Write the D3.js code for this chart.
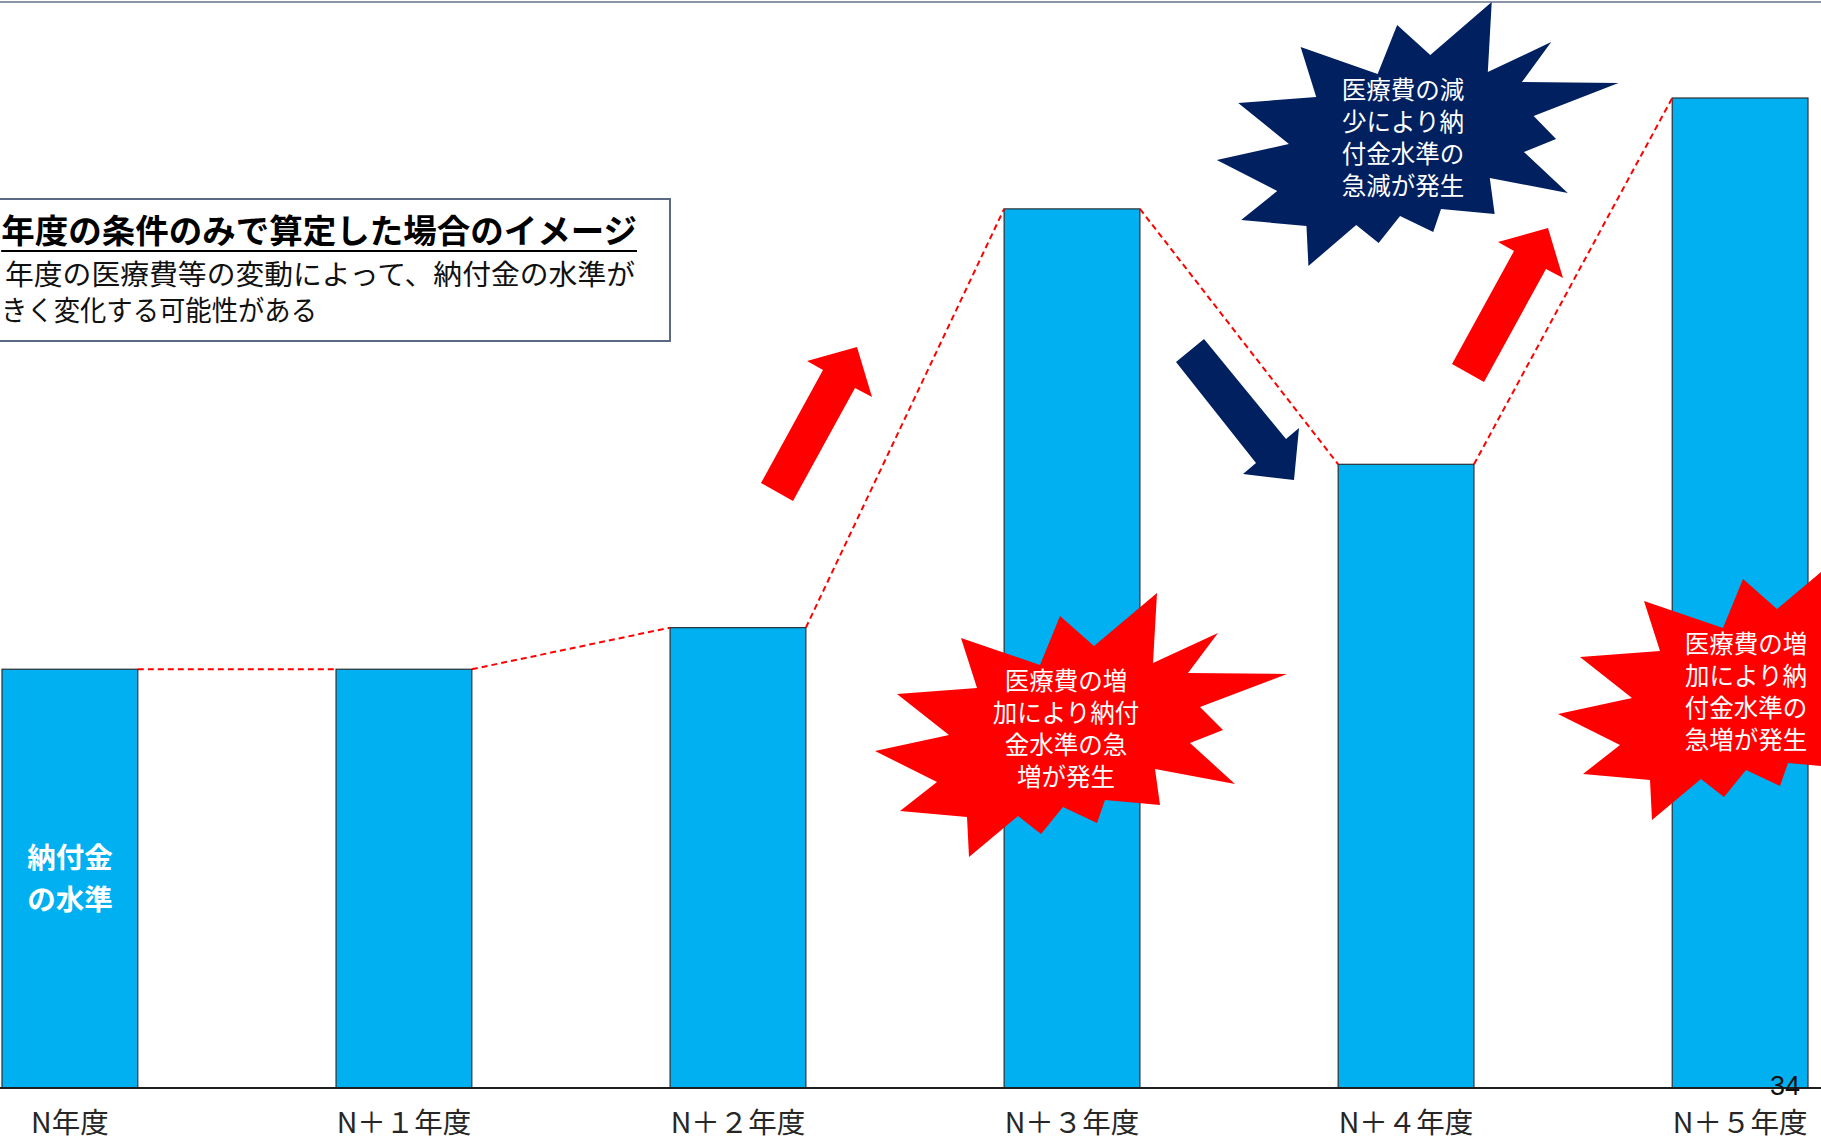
<!DOCTYPE html>
<html lang="ja">
<head>
<meta charset="utf-8">
<script src="https://cdn.jsdelivr.net/npm/d3@7"></script>
<style>
  html, body { margin: 0; padding: 0; background: #fff; overflow: hidden; }
  svg { display: block; font-family: "Noto Sans CJK JP", "Noto Sans", sans-serif; }
</style>
</head>
<body>
<svg id="chart" width="1821" height="1141"></svg>
<script>
// ---- data ----
const categories = ["N年度", "N＋１年度", "N＋２年度", "N＋３年度", "N＋４年度", "N＋５年度"];
const levels = [42.3, 42.3, 46.5, 88.8, 63.0, 100];   // 納付金の水準 (relative)
const barLabel = ["納付金", "の水準"];
const titleText = "年度の条件のみで算定した場合のイメージ";
const subtitleLines = ["年度の医療費等の変動によって、納付金の水準が", "きく変化する可能性がある"];
const increaseNoteA = ["医療費の増", "加により納付", "金水準の急", "増が発生"];
const decreaseNote = ["医療費の減", "少により納", "付金水準の", "急減が発生"];
const increaseNoteB = ["医療費の増", "加により納", "付金水準の", "急増が発生"];
const pageNumber = "34";

// ---- layout ----
const W = 1821, H = 1141;
const baseY = 1088;
const svg = d3.select("#chart");

const x = d3.scaleBand().domain(categories).range([2, 1808]).paddingInner(0.5935).paddingOuter(0);
const y = d3.scaleLinear().domain([0, 100]).range([baseY, 98]);

// top rule
svg.append("line").attr("x1", 0).attr("x2", W).attr("y1", 2).attr("y2", 2)
  .attr("stroke", "#8b95a8").attr("stroke-width", 2);

// bars
svg.append("g").selectAll("rect").data(levels).join("rect")
  .attr("x", (d, i) => x(categories[i]))
  .attr("y", d => y(d))
  .attr("width", x.bandwidth())
  .attr("height", d => baseY - y(d))
  .attr("fill", "#00B0F0")
  .attr("stroke", "#2a2f36").attr("stroke-width", 1.2);

// dashed connectors (top-right of bar i -> top-left of bar i+1)
const pairs = d3.pairs(levels.map((v, i) => ({ v, c: categories[i] })));
svg.append("g").selectAll("line").data(pairs).join("line")
  .attr("x1", d => x(d[0].c) + x.bandwidth())
  .attr("y1", d => y(d[0].v))
  .attr("x2", d => x(d[1].c))
  .attr("y2", d => y(d[1].v))
  .attr("stroke", "#FF0000").attr("stroke-width", 2)
  .attr("stroke-dasharray", "6,4");

// baseline
svg.append("line").attr("x1", 0).attr("x2", W).attr("y1", baseY).attr("y2", baseY)
  .attr("stroke", "#1e1e1e").attr("stroke-width", 2);

// x axis labels
const xAxis = svg.append("g").attr("transform", `translate(0,${baseY})`)
  .call(d3.axisBottom(x).tickSize(0).tickPadding(25));
xAxis.select(".domain").remove();
xAxis.selectAll("text")
  .attr("font-family", "'Noto Sans CJK JP', sans-serif")
  .attr("font-size", 28.5).attr("fill", "#262626");

// label inside first bar
svg.append("g").selectAll("text").data(barLabel).join("text")
  .attr("x", x(categories[0]) + x.bandwidth() / 2)
  .attr("y", (d, i) => 855 + i * 42)
  .attr("text-anchor", "middle").attr("dominant-baseline", "central")
  .attr("font-size", 28.5).attr("font-weight", "bold").attr("fill", "#ffffff")
  .text(d => d);

// title box
svg.append("rect").attr("x", -4).attr("y", 199).attr("width", 674).attr("height", 142)
  .attr("fill", "#fff").attr("stroke", "#5b6a82").attr("stroke-width", 2);
const title = svg.append("text").attr("x", 637).attr("y", 243)
  .attr("text-anchor", "end").attr("font-size", 33.5).attr("font-weight", "bold")
  .attr("fill", "#000").text(titleText);
const tw = title.node().getComputedTextLength();
svg.append("line").attr("x1", 637 - tw).attr("x2", 637).attr("y1", 251).attr("y2", 251)
  .attr("stroke", "#000").attr("stroke-width", 2);
svg.append("text").attr("x", 5).attr("y", 285)
  .attr("textLength", 630).attr("lengthAdjust", "spacingAndGlyphs")
  .attr("font-size", 28).attr("fill", "#111").text(subtitleLines[0]);
svg.append("text").attr("x", 1).attr("y", 321)
  .attr("textLength", 316).attr("lengthAdjust", "spacingAndGlyphs")
  .attr("font-size", 28).attr("fill", "#111").text(subtitleLines[1]);

// ---- annotation shapes ----
const starShape = [[91,-139],[87,-69],[152,-99],[122,-59],[221,-58],[134,-25],[157,-2],[124,11],
  [169,52],[89,37],[94,73],[39,68],[31,91],[-3,75],[-25,102],[-48,84],[-97,125],[-99,85],
  [-166,79],[-129,50],[-191,19],[-117,3],[-169,-38],[-89,-44],[-105,-94],[-26,-67],[-6,-116],[28,-86]];
const upArrow = [[-96,136],[-64,154],[-2,41],[15,50],[0,0],[-50,14],[-34,23]];
const downArrow = [[-118,-118],[-90,-141],[-8,-41],[5,-52],[0,0],[-51,-6],[-38,-17]];

function star(cx, cy, sx, fill, lines, tx) {
  const g = svg.append("g");
  g.append("polygon")
    .attr("points", starShape.map(p => [cx + p[0] * sx, cy + p[1]].join(",")).join(" "))
    .attr("fill", fill);
  g.selectAll("text").data(lines).join("text")
    .attr("x", tx).attr("y", (d, i) => cy - 52.5 + i * 32)
    .attr("text-anchor", "middle").attr("dominant-baseline", "central")
    .attr("font-size", 24.5).attr("fill", "#fff").text(d => d);
}
function arrow(tipX, tipY, shape, fill) {
  svg.append("polygon")
    .attr("points", shape.map(p => [tipX + p[0], tipY + p[1]].join(",")).join(" "))
    .attr("fill", fill);
}

star(1066, 732, 1, "#FF0000", increaseNoteA, 1066);
star(1403, 141, 0.975, "#002060", decreaseNote, 1403);
star(1749, 695, 1, "#FF0000", increaseNoteB, 1746);

arrow(857, 347, upArrow, "#FF0000");
arrow(1548, 228, upArrow, "#FF0000");
arrow(1294, 480, downArrow, "#002060");

// page number
svg.append("text").attr("x", 1800).attr("y", 1095).attr("text-anchor", "end")
  .attr("font-family", "'Liberation Sans', sans-serif")
  .attr("font-size", 27).attr("fill", "#111").text(pageNumber);
</script>
</body>
</html>
